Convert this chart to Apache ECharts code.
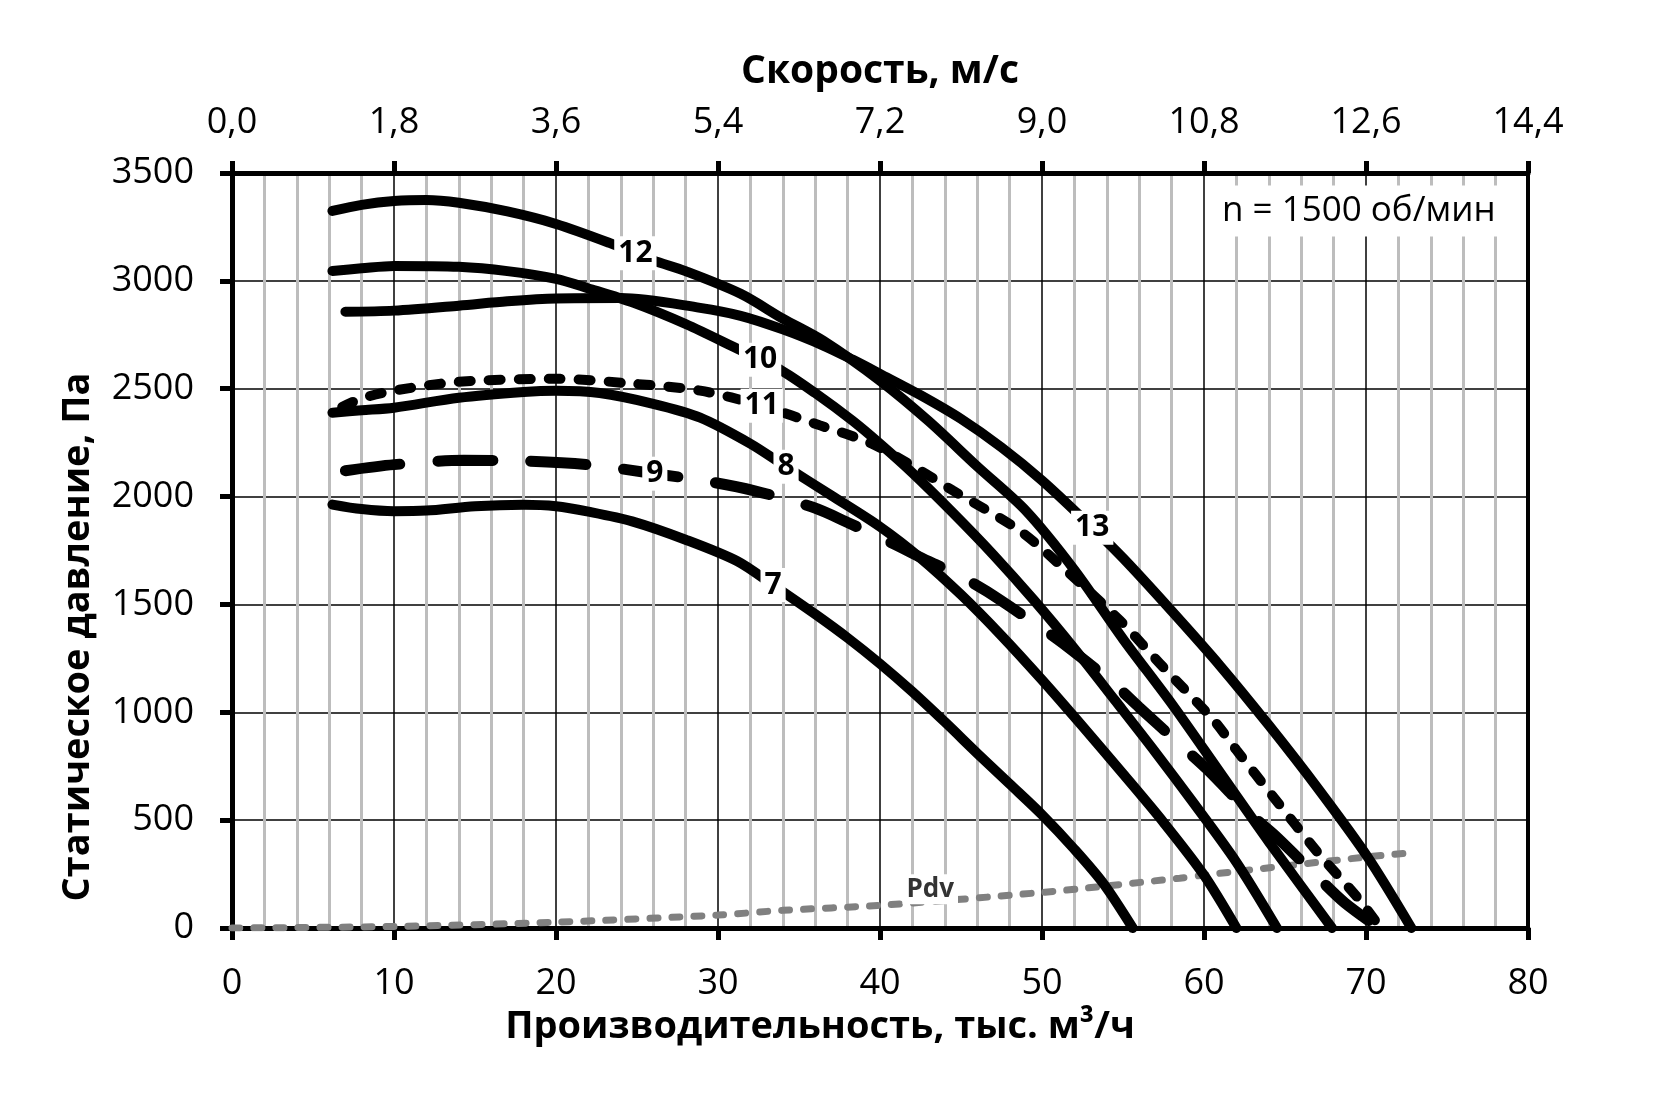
<!DOCTYPE html>
<html>
<head>
<meta charset="utf-8">
<script src="https://cdn.jsdelivr.net/npm/echarts@6/dist/echarts.min.js"></script>
<style>
  html, body { margin: 0; padding: 0; background: #fff; }
  #main { width: 1654px; height: 1103px; }
</style>
</head>
<body>
<div id="main"></div>
<script>
// кривые вентилятора: [производительность, тыс. м3/ч ; статическое давление, Па]
var curve12 = [[6.2,3324],[8,3352],[10,3370],[12,3375],[14,3362],[17,3322],[20,3264],[23.3,3176],[26,3095],[28,3045],[31.4,2940],[34,2825],[36.5,2722],[40,2537],[43,2350],[46,2140],[49,1935],[52,1660],[55,1340],[58,1040],[61,720],[64,400],[67.9,0]];
var curve10 = [[6.2,3046],[8,3058],[10,3069],[14,3065],[17,3045],[20,3009],[22,2965],[24.8,2898],[28,2800],[31.2,2685],[33.8,2590],[36,2480],[38.3,2352],[40,2245],[42,2110],[44.5,1925],[47,1730],[49.5,1520],[52,1295],[54.5,1056],[57,815],[59.3,585],[62,305],[64.5,0]];
var curve13 = [[7,2857],[10,2862],[14,2885],[17,2905],[20,2918],[24,2920],[28.9,2875],[31.4,2838],[34,2775],[36.5,2700],[38.3,2635],[40,2569],[42.5,2470],[45,2360],[47.5,2228],[50,2075],[52.5,1900],[55,1715],[58,1470],[61,1215],[64,940],[67,650],[70.1,329],[72.8,0]];
var curve11 = [[6.8,2415],[8,2455],[10,2491],[14,2532],[20,2546],[24.8,2523],[28.9,2491],[32.7,2421],[36.3,2330],[39.5,2245],[42.5,2120],[44.5,2028],[48.6,1843],[51.5,1657],[54.8,1426],[57.5,1208],[60.6,963],[62,825],[64.3,606],[67,352],[69.6,130],[70.9,0]];
var curve8 = [[6.2,2389],[8,2400],[10,2412],[14,2458],[18,2485],[20,2491],[22.7,2480],[26,2430],[28.9,2366],[32,2245],[34.1,2143],[37,2005],[40,1860],[42.5,1715],[45,1545],[47.5,1355],[50,1150],[52.5,935],[55,715],[57.5,490],[60,245],[62,0]];
var curve9 = [[7,2120],[10,2148],[14.3,2168],[18,2165],[22,2148],[26.1,2106],[29,2075],[32.2,2028],[35.9,1949],[38,1880],[40.8,1782],[43,1700],[44.9,1634],[46.6,1560],[49.9,1394],[51.3,1319],[54.4,1134],[56,1023],[58.7,838],[60.2,735],[63,520],[64.5,421],[67.2,222],[68.7,116],[70.8,0]];
var curve7 = [[6.2,1963],[8,1942],[10,1932],[12,1935],[15,1955],[18,1962],[20,1955],[22,1930],[24.7,1885],[28,1800],[31.2,1700],[33.4,1590],[36,1455],[38,1345],[40,1225],[42,1095],[44,955],[46,810],[48,668],[50,525],[52,365],[53.8,205],[55.6,0]];
var pdv = [[0,0],[10,7],[20,27],[30,60],[34,82],[40,105],[50,165],[58.5,231],[60,245],[70,329],[73,350]];

// где на кривой стоит её номер (по оси X)
var labelX = { '12': 24.9, '10': 32.6, '11': 32.7, '8': 34.2, '9': 26.1, '7': 33.4, '13': 53.1, 'Pdv': 43.1 };

var FONT = 'Open Sans';

function yAt(data, x) {
    for (var i = 1; i < data.length; i++) {
        if (data[i][0] >= x) {
            var a = data[i-1], b = data[i];
            return a[1] + (b[1]-a[1]) * (x-a[0]) / (b[0]-a[0]);
        }
    }
    return data[data.length-1][1];
}

function curve(name, data, style, labelOffset) {
    var x = labelX[name];
    return {
        name: name,
        type: 'line',
        data: data,
        symbol: 'none',
        smooth: 0.3,
        lineStyle: style,
        z: 3,
        markPoint: {
            symbol: 'rect',
            symbolSize: 1,
            itemStyle: { color: 'rgba(0,0,0,0)' },
            z: 10,
            data: [{ coord: [x, yAt(data, x)] }],
            label: {
                show: true,
                position: 'inside',
                offset: labelOffset || [0, 0],
                formatter: name,
                fontFamily: FONT,
                fontWeight: 'bold',
                fontSize: name === 'Pdv' ? 26 : 30,
                color: name === 'Pdv' ? '#333' : '#000',
                backgroundColor: '#fff',
                padding: [2, 4]
            }
        }
    };
}

var solid = { color: '#000', width: 10, cap: 'round', join: 'round' };
var shortDash = { color: '#000', width: 10, type: [12, 18], cap: 'round' };
var longDash = { color: '#000', width: 11, type: [55, 38], cap: 'round' };
var dotted = { color: '#808080', width: 7, type: [8, 14], cap: 'round' };

var myChart = echarts.init(document.getElementById('main'));
var option = {
    animation: false,
    backgroundColor: '#fff',
    textStyle: { fontFamily: FONT },
    grid: {
        left: 232, right: 126, top: 173, bottom: 175,
        show: true, borderColor: '#000', borderWidth: 4
    },
    xAxis: [{
        type: 'value', position: 'bottom',
        min: 0, max: 80, interval: 10,
        axisLine: { show: true, onZero: false, lineStyle: { color: '#000', width: 5 } },
        axisTick: { show: true, length: 12, lineStyle: { color: '#000', width: 5 } },
        axisLabel: { margin: 38, fontSize: 36, color: '#000', fontFamily: FONT },
        splitLine: { show: true, lineStyle: { color: '#000', width: 1.5 } },
        minorTick: { show: false, splitNumber: 5 },
        minorSplitLine: { show: true, lineStyle: { color: '#bdbdbd', width: 3 } }
    }, {
        type: 'value', position: 'top',
        min: 0, max: 14.4, interval: 1.8,
        axisLine: { show: true, onZero: false, lineStyle: { color: '#000', width: 5 } },
        axisTick: { show: true, length: 12, lineStyle: { color: '#000', width: 5 } },
        axisLabel: {
            margin: 32, fontSize: 36, color: '#000', fontFamily: FONT,
            formatter: function (v) { return v.toFixed(1).replace('.', ','); }
        },
        splitLine: { show: false }
    }],
    yAxis: {
        type: 'value',
        min: 0, max: 3500, interval: 500,
        axisLine: { show: true, onZero: false, lineStyle: { color: '#000', width: 5 } },
        axisTick: { show: true, length: 12, lineStyle: { color: '#000', width: 5 } },
        axisLabel: {
            margin: 38, fontSize: 36, color: '#000', fontFamily: FONT,
            formatter: function (v) { return String(v); }
        },
        splitLine: { show: true, lineStyle: { color: '#000', width: 1.5 } }
    },
    graphic: [{
        type: 'text', x: 880, y: 72, z: 20,
        style: { text: 'Скорость, м/с', font: 'bold 39px "Open Sans"', fill: '#000', align: 'center', verticalAlign: 'middle' }
    }, {
        type: 'text', x: 820, y: 1027, z: 20,
        style: { text: 'Производительность, тыс. м³/ч', font: 'bold 38px "Open Sans"', fill: '#000', align: 'center', verticalAlign: 'middle' }
    }, {
        type: 'text', x: 78, y: 637, rotation: Math.PI / 2, z: 20,
        style: { text: 'Статическое давление, Па', font: 'bold 38px "Open Sans"', fill: '#000', align: 'center', verticalAlign: 'middle' }
    }, {
        type: 'text', x: 1212, y: 211, z: 20,
        style: {
            text: 'n = 1500 об/мин', font: '35px "Open Sans"', fill: '#000',
            align: 'left', verticalAlign: 'middle',
            backgroundColor: '#fff', padding: [8, 10, 8, 10]
        }
    }],
    series: [
        curve('Pdv', pdv, dotted, [0, -12]),
        curve('7', curve7, solid),
        curve('9', curve9, longDash),
        curve('8', curve8, solid),
        curve('11', curve11, shortDash),
        curve('13', curve13, solid),
        curve('10', curve10, solid),
        curve('12', curve12, solid)
    ]
};

myChart.setOption(option);
</script>
</body>
</html>
